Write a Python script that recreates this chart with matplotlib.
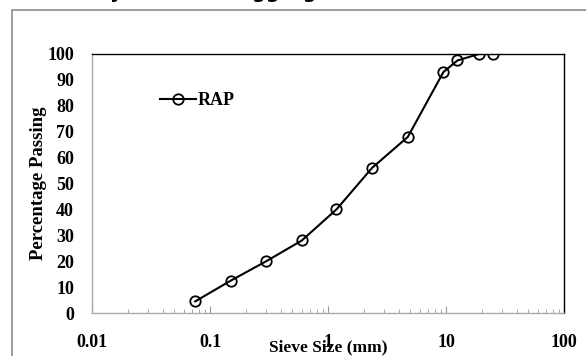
import matplotlib.pyplot as plt
from matplotlib.patches import Rectangle

# sieve sizes (mm) and percentage passing
sieve_mm = [0.075, 0.15, 0.3, 0.6, 1.18, 2.36, 4.75, 9.5, 12.5, 19, 25]
passing = [4.5, 12.5, 20, 28, 40, 56, 68, 93, 97.5, 100, 100]
x_ticks = [0.01, 0.1, 1, 10, 100]
x_labels = ['0.01', '0.1', '1', '10', '100']
y_ticks = list(range(0, 101, 10))

plt.rcParams['font.family'] = ['Liberation Serif', 'DejaVu Serif']

fig = plt.figure(figsize=(5.86, 3.56), dpi=100)

# outer chart frame (partly outside the image)
fig.patches.append(Rectangle((12 / 586, -0.1), 1.0, 1 - 10 / 356 + 0.1,
                             transform=fig.transFigure, fill=False,
                             edgecolor='#8c8c8c', linewidth=1.2))

# title, mostly cut off at the top edge
fig.text(0.235, 1 + 2.5 / 356, 'Particle size analysis of RAP aggregate',
         ha='center', va='baseline', fontsize=14, fontweight='bold',
         family='DejaVu Sans')

ax = fig.add_axes([92 / 586, 1 - 313 / 356, 472 / 586, 259 / 356])
ax.plot(sieve_mm, passing, color='black', linewidth=1.5, marker='o',
        markersize=7.5, markerfacecolor='none', markeredgecolor='black',
        markeredgewidth=1.3, label='RAP')

ax.set_xscale('log')
ax.set_xlim(0.01, 100)
ax.set_ylim(0, 100)
ax.set_xticks(x_ticks)
ax.set_xticklabels(x_labels)
ax.set_yticks(y_ticks)

ax.tick_params(axis='x', which='major', direction='in', length=5, color='#999999',
               pad=15, labelsize=13)
ax.tick_params(axis='x', which='minor', direction='in', length=3, color='#999999')
ax.tick_params(axis='y', length=0, pad=13, labelsize=13)
for lab in ax.get_xticklabels() + ax.get_yticklabels():
    lab.set_fontweight('bold')

ax.spines['left'].set_color('#aaaaaa')
ax.spines['bottom'].set_color('#aaaaaa')
ax.spines['top'].set_color('black')
ax.spines['right'].set_color('black')
for s in ax.spines.values():
    s.set_linewidth(1.0)

ax.set_xlabel('Sieve Size (mm)', fontsize=12.5, fontweight='bold')
ax.xaxis.set_label_coords(0.5, -0.1)
ax.set_ylabel('Percentage Passing', fontsize=13.5, fontweight='bold')
ax.yaxis.set_label_coords(-0.095, 0.5)

leg = ax.legend(loc='center left', bbox_to_anchor=(0.11, 0.82), frameon=False,
                prop={'weight': 'bold', 'size': 13}, handlelength=2.0,
                handletextpad=0.1)

fig.savefig('out.png', dpi=100)
